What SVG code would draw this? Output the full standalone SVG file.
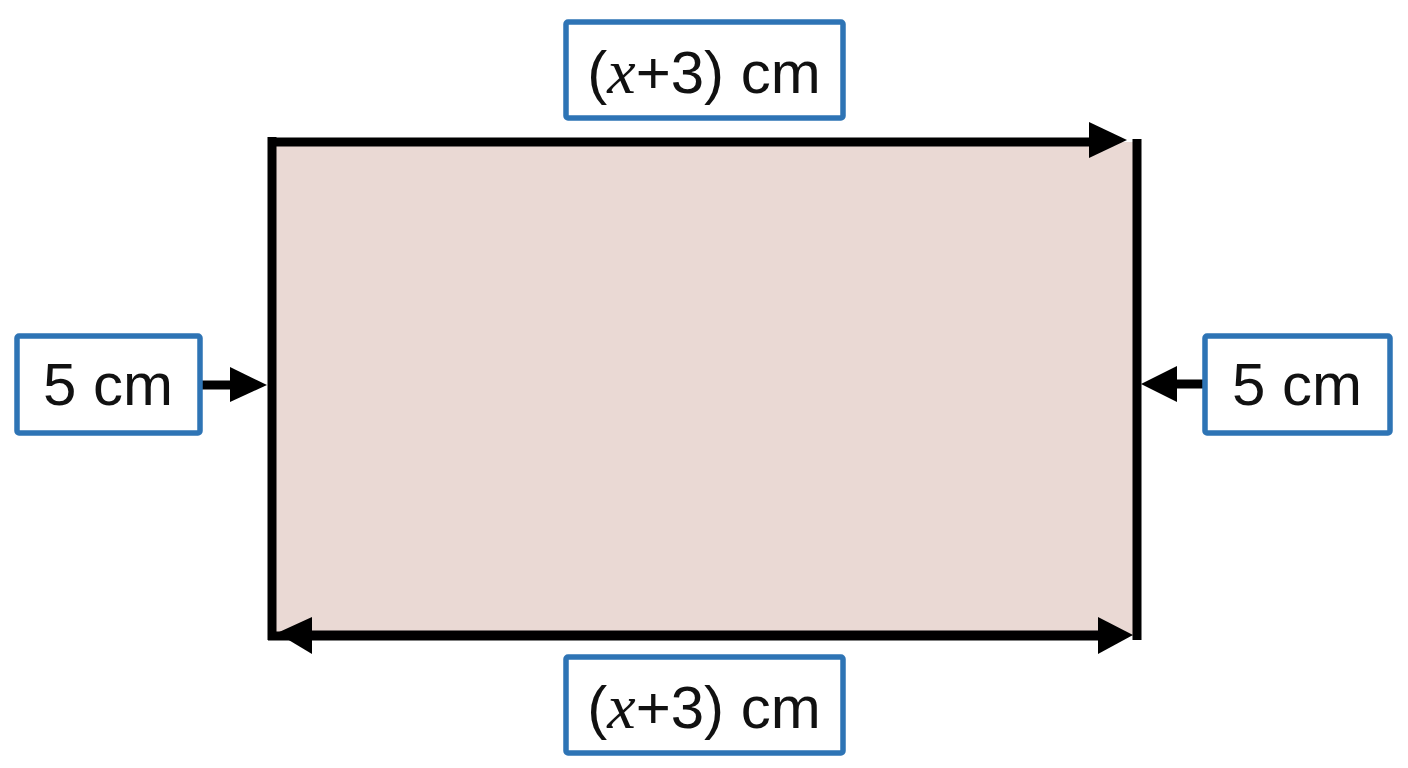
<svg xmlns="http://www.w3.org/2000/svg" width="1408" height="768" viewBox="0 0 1408 768">
<style>
.lbl{fill:#ffffff;stroke:#2E74B5;stroke-width:5.5}
.t{font-family:"Liberation Sans",Arial,sans-serif;font-size:60px;fill:#111;text-anchor:middle}
.xi{font-family:"Liberation Serif","DejaVu Serif",serif;font-style:italic;font-size:64px}
.ln{stroke:#000;stroke-width:9;fill:none}
.hd{fill:#000}
</style>
<rect width="1408" height="768" fill="#ffffff"/>
<g id="rectangle">
<rect x="272" y="142" width="865" height="494" fill="#EAD9D4"/>
<path class="ln" d="M1137 139 V640"/>
<path class="ln" d="M272 137 V640"/>
</g>
<g id="connectors">
<path class="ln" d="M268 142 H1095"/>
<polygon class="hd" points="1089,122 1127,140 1089,158"/>
<path class="ln" d="M268 636 H1105"/>
<path class="ln" d="M300 635 H1105"/>
<polygon class="hd" points="312,617 277,633 312,654"/>
<polygon class="hd" points="1098,617 1133,635 1098,654"/>
<path class="ln" d="M202 385 H236"/>
<polygon class="hd" points="230,367 267,385 230,402"/>
<path class="ln" d="M1203 384 H1172"/>
<polygon class="hd" points="1177,366 1141,384 1177,402"/>
</g>
<g id="label-top">
<rect class="lbl" x="566" y="22" width="277" height="96" rx="2"/>
<text class="t" x="704" y="93">(<tspan class="xi">x</tspan>+3) cm</text>
</g>
<g id="label-bottom">
<rect class="lbl" x="566" y="657" width="277" height="96" rx="2"/>
<text class="t" x="704" y="728">(<tspan class="xi">x</tspan>+3) cm</text>
</g>
<g id="label-left">
<rect class="lbl" x="17" y="336" width="183" height="97" rx="2"/>
<text class="t" x="108" y="405">5 cm</text>
</g>
<g id="label-right">
<rect class="lbl" x="1205" y="336" width="185" height="97" rx="2"/>
<text class="t" x="1297" y="405">5 cm</text>
</g>
</svg>
